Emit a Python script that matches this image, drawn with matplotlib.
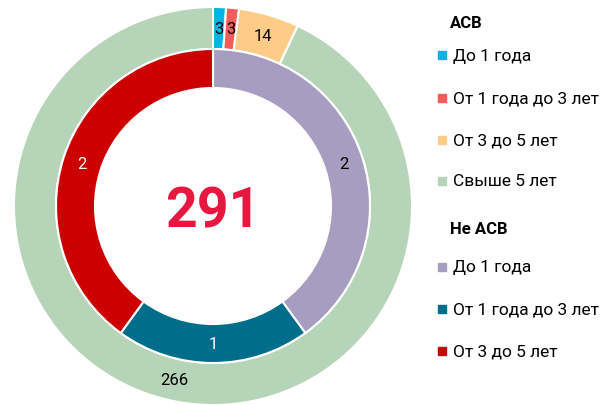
import numpy as np
import matplotlib.pyplot as plt

# Outer ring: АСВ
asv_labels = ['До 1 года', 'От 1 года до 3 лет', 'От 3 до 5 лет', 'Свыше 5 лет']
asv_values = [3, 3, 14, 266]
asv_colors = ['#00B4E4', '#F45B5B', '#FFCC88', '#B6D4B7']
asv_text = ['black', 'black', 'black', 'black']

# Inner ring: Не АСВ
nasv_labels = ['До 1 года', 'От 1 года до 3 лет', 'От 3 до 5 лет']
nasv_values = [2, 1, 2]
nasv_colors = ['#A79DC0', '#006E8A', '#CC0000']
nasv_text = ['black', 'white', 'white']

total = sum(asv_values) + sum(nasv_values)

plt.rcParams['font.family'] = ['Roboto', 'DejaVu Sans']

fig = plt.figure(figsize=(6.06, 4.06), dpi=100)

# pie axes: center (213, 207) px, radius 199 px
R = 199
ax = fig.add_axes([(213 - R) / 606, (406 - 207 - R) / 406, 2 * R / 606, 2 * R / 406])

r_out, r_mid, r_in = 1.0, 157 / 199, 118 / 199

w1, _ = ax.pie(asv_values, radius=r_out, colors=asv_colors, startangle=90,
               counterclock=False,
               wedgeprops=dict(width=r_out - r_mid, edgecolor='white', linewidth=1.5))
w2, _ = ax.pie(nasv_values, radius=r_mid, colors=nasv_colors, startangle=90,
               counterclock=False,
               wedgeprops=dict(width=r_mid - r_in, edgecolor='white', linewidth=1.5))
ax.set_aspect('equal')
ax.set_xlim(-1, 1)
ax.set_ylim(-1, 1)
ax.axis('off')


def put_labels(wedges, values, colors, r):
    for w, v, c in zip(wedges, values, colors):
        ang = np.deg2rad((w.theta1 + w.theta2) / 2)
        ax.text(r * np.cos(ang), r * np.sin(ang), str(v), ha='center', va='center',
                fontsize=12, color=c, family=['Liberation Sans Narrow', 'Roboto'])


put_labels(w1, asv_values, asv_text, (r_out + r_mid) / 2)
put_labels(w2, nasv_values, nasv_text, (r_mid + r_in) / 2)

ax.text(0, -0.03, str(total), ha='center', va='center', fontsize=40,
        fontweight='bold', color='#E8173F')


# legend drawn as figure text
def ypx(y):
    return 1 - y / 406


fig.text(450 / 606, ypx(24), 'АСВ', fontsize=12, fontweight='bold', va='center')
for i, (lab, col) in enumerate(zip(asv_labels, asv_colors)):
    y = [56, 99, 141, 182][i]
    fig.patches.append(plt.Rectangle((438 / 606, ypx(y + 4)), 8 / 606, 8 / 406,
                                     color=col, transform=fig.transFigure))
    fig.text(453 / 606, ypx(y), lab, fontsize=12.5, va='center')

fig.text(450 / 606, ypx(230), 'Не АСВ', fontsize=12, fontweight='bold', va='center')
for i, (lab, col) in enumerate(zip(nasv_labels, nasv_colors)):
    y = [268, 310, 352][i]
    fig.patches.append(plt.Rectangle((438 / 606, ypx(y + 4)), 8 / 606, 8 / 406,
                                     color=col, transform=fig.transFigure))
    fig.text(453 / 606, ypx(y), lab, fontsize=12.5, va='center')

fig.savefig('out.png', dpi=100)
